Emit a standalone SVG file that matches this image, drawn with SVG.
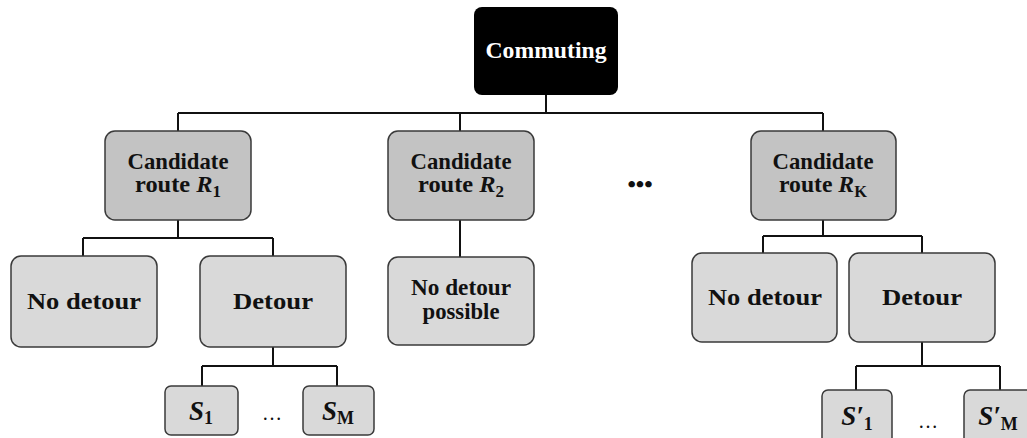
<svg xmlns="http://www.w3.org/2000/svg" width="1027" height="438" viewBox="0 0 1027 438">
<style>
.dark{fill:#c3c3c3;stroke:#3a3a3a;stroke-width:1.5}
.light{fill:#d9d9d9;stroke:#3a3a3a;stroke-width:1.5}
.t{font-family:"Liberation Serif","Times New Roman",serif;font-weight:bold;font-size:23px;fill:#111;text-anchor:middle}
.m{font-family:"Liberation Serif","Times New Roman",serif;font-weight:bold;font-style:italic;font-size:27px;fill:#111;text-anchor:middle}
.sub{font-style:normal;font-size:18px}
.subi{font-size:16px}
.con{fill:none;stroke:#111;stroke-width:2}
.dots{font-family:"Liberation Serif",serif;font-weight:bold;font-size:24px;fill:#111;text-anchor:middle}
</style>
<g id="connectors" class="con">
<path d="M546 95V113M178 113H823M178 113V131M460 113V131M823 113V131"/>
<path d="M178 220V238M83 238H273M83 238V256M273 238V256"/>
<path d="M460 220V257"/>
<path d="M823 220V236M763 236H922M763 236V253M922 236V253"/>
<path d="M273 347V366M202 366H337M202 366V386M337 366V386"/>
<path d="M922 342V366M856 366H1000M856 366V390M1000 366V390"/>
</g>
<g id="commuting">
<rect x="474" y="7" width="144" height="88" rx="8" fill="#000"/>
<text class="t" x="546" y="58" style="fill:#fff" textLength="121" lengthAdjust="spacingAndGlyphs">Commuting</text>
</g>
<g id="route1">
<rect class="dark" x="105" y="131" width="146" height="89" rx="10"/>
<text class="t" x="178" y="169" textLength="101" lengthAdjust="spacingAndGlyphs">Candidate</text>
<text class="t" x="178" y="192" textLength="86" lengthAdjust="spacingAndGlyphs">route <tspan font-style="italic">R</tspan><tspan class="subi" dy="5">1</tspan></text>
</g>
<g id="route2">
<rect class="dark" x="388" y="131" width="146" height="89" rx="10"/>
<text class="t" x="461" y="169" textLength="101" lengthAdjust="spacingAndGlyphs">Candidate</text>
<text class="t" x="461" y="192" textLength="86" lengthAdjust="spacingAndGlyphs">route <tspan font-style="italic">R</tspan><tspan class="subi" dy="5">2</tspan></text>
</g>
<g id="dots-mid">
<text class="dots" x="640" y="192">•••</text>
</g>
<g id="routeK">
<rect class="dark" x="751" y="131" width="145" height="89" rx="10"/>
<text class="t" x="823" y="169" textLength="101" lengthAdjust="spacingAndGlyphs">Candidate</text>
<text class="t" x="823" y="192" textLength="88" lengthAdjust="spacingAndGlyphs">route <tspan font-style="italic">R</tspan><tspan class="subi" dy="5">K</tspan></text>
</g>
<g id="nodetour1">
<rect class="light" x="11" y="256" width="146" height="91" rx="10"/>
<text class="t" x="84" y="309" textLength="114" lengthAdjust="spacingAndGlyphs">No detour</text>
</g>
<g id="detour1">
<rect class="light" x="200" y="256" width="146" height="91" rx="10"/>
<text class="t" x="273" y="309" textLength="80" lengthAdjust="spacingAndGlyphs">Detour</text>
</g>
<g id="nodetour2">
<rect class="light" x="388" y="257" width="146" height="88" rx="10"/>
<text class="t" x="461" y="295" textLength="100" lengthAdjust="spacingAndGlyphs">No detour</text>
<text class="t" x="461" y="319" textLength="77" lengthAdjust="spacingAndGlyphs">possible</text>
</g>
<g id="nodetourK">
<rect class="light" x="692" y="253" width="145" height="89" rx="10"/>
<text class="t" x="765" y="305" textLength="114" lengthAdjust="spacingAndGlyphs">No detour</text>
</g>
<g id="detourK">
<rect class="light" x="849" y="253" width="146" height="89" rx="10"/>
<text class="t" x="922" y="305" textLength="80" lengthAdjust="spacingAndGlyphs">Detour</text>
</g>
<g id="s1">
<rect class="light" x="165" y="386" width="73" height="49" rx="6"/>
<text class="m" x="201" y="420">S<tspan class="sub" dy="4">1</tspan></text>
</g>
<g id="dots-s">
<text class="dots" x="272" y="420" style="font-size:20px;font-weight:normal">…</text>
</g>
<g id="sM">
<rect class="light" x="303" y="386" width="71" height="49" rx="6"/>
<text class="m" x="338" y="420">S<tspan class="sub" font-style="italic" dy="4">M</tspan></text>
</g>
<g id="s1p">
<rect class="light" x="822" y="390" width="70" height="60" rx="6"/>
<text class="m" x="857" y="425">S′<tspan class="sub" dy="5">1</tspan></text>
</g>
<g id="dots-sp">
<text class="dots" x="928" y="428" style="font-size:20px;font-weight:normal">…</text>
</g>
<g id="sMp">
<rect class="light" x="964" y="390" width="70" height="60" rx="6"/>
<text class="m" x="998" y="425">S′<tspan class="sub" font-style="italic" dy="5">M</tspan></text>
</g>
</svg>
